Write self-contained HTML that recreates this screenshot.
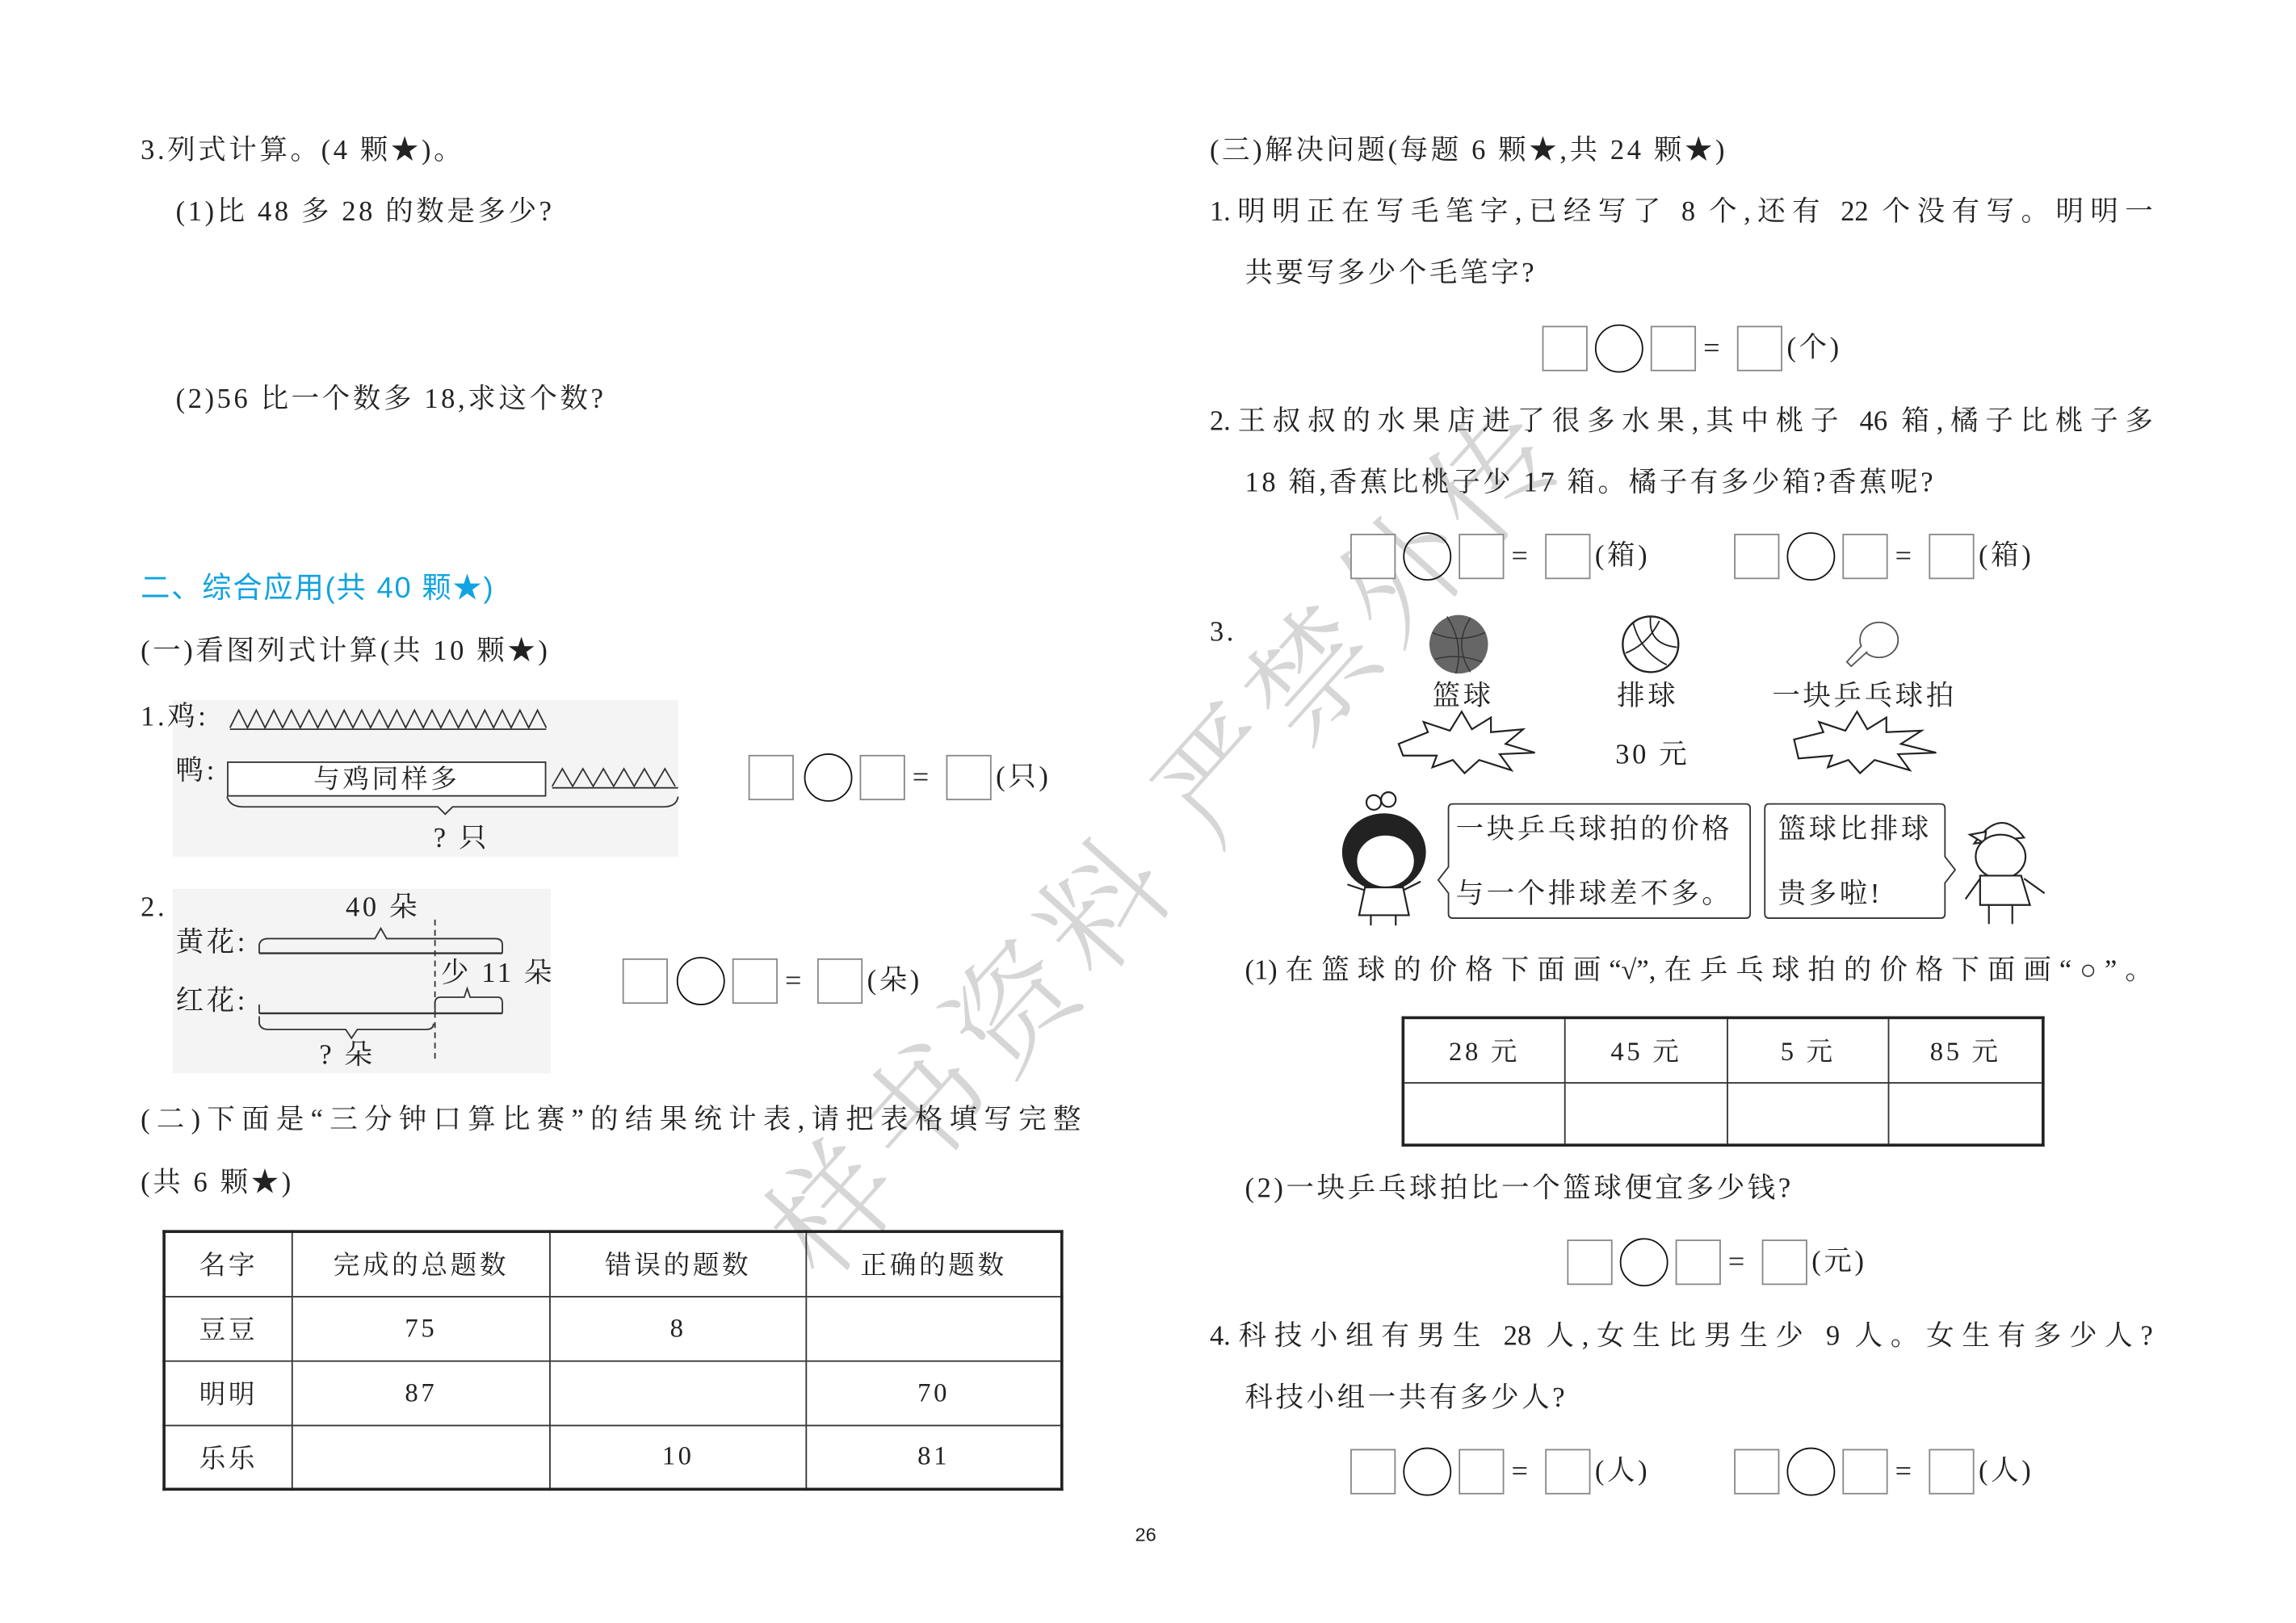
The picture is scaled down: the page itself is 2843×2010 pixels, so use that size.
<!DOCTYPE html>
<html><head><meta charset="utf-8">
<style>
html,body{margin:0;padding:0;background:#fff;}
#wrap{width:2843px;height:2010px;overflow:hidden;position:relative;background:#fff;}
#s{position:absolute;left:0;top:0;width:1560px;height:1103px;transform:scale(1.8135);transform-origin:0 0;font-family:"Liberation Serif","Noto Serif CJK SC",serif;color:#222;}
.t{position:absolute;white-space:nowrap;font-size:19px;line-height:1;transform:translateY(-50%);letter-spacing:2px;}
.j{text-align:justify;text-align-last:justify;letter-spacing:0;}
.sq{position:absolute;width:31px;height:31px;border:1px solid #888;box-sizing:border-box;transform:translateY(-50%);background:#fff;}
.ci{position:absolute;width:33px;height:33px;border:1.6px solid #111;border-radius:50%;box-sizing:border-box;transform:translateY(-50%);}
.eq{position:absolute;font-size:20px;transform:translateY(-50%);line-height:1;}
table{position:absolute;border-collapse:collapse;table-layout:fixed;}
td{border:1px solid #333;text-align:center;font-size:18px;letter-spacing:2px;padding:0;}
svg{position:absolute;left:0;top:0;}
</style></head><body><div id="wrap"><div id="s">

<!-- watermark -->
<div class="t" style="left:410px;top:568px;font-size:84px;color:#d6d6d6;transform:translateY(-50%) rotate(-48deg);transform-origin:center;letter-spacing:8px;font-family:'Noto Serif CJK SC',serif;font-weight:300;">样书资料 严禁外传</div>

<!-- left column -->
<div class="t" style="left:96px;top:103px;">3.列式计算。(4 颗★)。</div>
<div class="t" style="left:120px;top:145px;">(1)比 48 多 28 的数是多少?</div>
<div class="t" style="left:120px;top:273px;">(2)56 比一个数多 18,求这个数?</div>
<div class="t" style="left:96px;top:402px;color:#12a3e0;font-family:'Liberation Sans','Noto Sans CJK SC',sans-serif;font-size:20px;letter-spacing:1px;">二、综合应用(共 40 颗★)</div>
<div class="t" style="left:96px;top:445px;">(一)看图列式计算(共 10 颗★)</div>

<div style="position:absolute;left:118px;top:478px;width:345px;height:107px;background:#f4f4f4;"></div>
<div style="position:absolute;left:118px;top:607px;width:258px;height:126px;background:#f4f4f4;"></div>

<div class="t" style="left:96px;top:490px;">1.鸡:</div>
<div class="t" style="left:120px;top:527px;">鸭:</div>
<div style="position:absolute;left:155px;top:520px;width:218px;height:24px;border:1px solid #333;box-sizing:border-box;background:#fff;font-size:18px;text-align:center;line-height:22px;letter-spacing:2px;">与鸡同样多</div>
<div class="t" style="left:296px;top:573px;">? 只</div>

<div class="t" style="left:96px;top:620px;">2.</div>
<div class="t" style="left:236px;top:620px;">40 朵</div>
<div class="t" style="left:120px;top:644px;">黄花:</div>
<div class="t" style="left:120px;top:684px;">红花:</div>
<div class="t" style="left:301px;top:665px;">少 11 朵</div>
<div class="t" style="left:218px;top:721px;">? 朵</div>

<svg width="1560" height="1103" viewBox="0 0 1560 1103">
 <g fill="none" stroke="#333" stroke-width="1">
  <polyline points="157,497 163,485 169,497 175,485 181,497 187,485 193,497 199,485 205,497 211,485 217,497 223,485 229,497 235,485 241,497 247,485 253,497 259,485 265,497 271,485 277,497 283,485 289,497 295,485 301,497 307,485 313,497 319,485 325,497 331,485 337,497 343,485 349,497 355,485 361,497 367,485 373,497"/>
  <line x1="157" y1="498" x2="373" y2="498"/>
  <polyline points="377,537 384,525 391,537 398,525 405,537 412,525 419,537 426,525 433,537 440,525 447,537 454,525 461,537"/>
  <line x1="377" y1="538" x2="463" y2="538"/>
  <path d="M155,544 Q157,551 166,551 L299,551 L304,556 L309,551 L453,551 Q462,551 463,544"/>
  <line x1="177" y1="651" x2="343" y2="651" stroke-width="1.3"/>
  <path d="M177,651 L177,645 Q178,641 183,641 L256,641 L260,634 L264,641 L338,641 Q343,641 343,645 L343,651"/>
  <line x1="177" y1="692" x2="343" y2="692" stroke-width="1.3"/>
  <line x1="177" y1="686" x2="177" y2="692"/>
  <path d="M297,692 L297,685 Q297,681 301,681 L317,681 L319,675 L321,681 L340,681 Q343,681 343,685 L343,692"/>
  <path d="M177,694 L177,699 Q178,703 183,703 L236,703 L240,709 L244,703 L291,703 Q296,703 296,699"/>
  <line x1="297" y1="628" x2="297" y2="725" stroke-dasharray="4,3"/>
 </g>
 <circle cx="996" cy="440" r="20" fill="#666"/>
 <path d="M978,432 Q996,440 1014,432 M980,450 Q996,446 1012,452 M988,421 Q1000,440 994,460 M1004,422 Q992,440 1004,459" stroke="#333" fill="none" stroke-width="0.8"/>
 <circle cx="1127" cy="440" r="19" fill="#fff" stroke="#222" stroke-width="1.3"/>
 <path d="M1115,425 Q1120,445 1138,454 M1127,421 Q1125,440 1145,442 M1110,446 Q1125,440 1133,424" stroke="#222" fill="none" stroke-width="1"/>
 <ellipse cx="1283" cy="437" rx="13" ry="12" fill="#fff" stroke="#555" stroke-width="1"/>
 <path d="M1271,441 L1261,452 L1264,455 L1275,445" fill="#fff" stroke="#555" stroke-width="1"/>
 <polygon points="955,508 975,500 972,493 990,499 998,486 1005,498 1018,490 1018,500 1040,498 1028,508 1048,514 1024,515 1032,526 1010,519 1000,528 992,519 978,524 981,516 958,516" fill="#fff" stroke="#222" stroke-width="1.2"/>
 <polygon points="1225,505 1245,500 1242,493 1260,499 1268,486 1275,498 1288,490 1288,500 1312,499 1298,508 1322,514 1296,515 1304,526 1280,519 1270,528 1262,519 1248,524 1251,516 1228,518" fill="#fff" stroke="#222" stroke-width="1.2"/>
 <path d="M992,549 L1192,549 Q1195,549 1195,552 L1195,624 Q1195,627 1192,627 L992,627 Q989,627 989,624 L989,610 L982,601 L989,592 L989,552 Q989,549 992,549 Z" fill="#fff" stroke="#333" stroke-width="1"/>
 <path d="M1208,549 L1325,549 Q1328,549 1328,552 L1328,585 L1335,594 L1328,603 L1328,624 Q1328,627 1325,627 L1208,627 Q1205,627 1205,624 L1205,552 Q1205,549 1208,549 Z" fill="#fff" stroke="#333" stroke-width="1"/>
 <g fill="#fff" stroke="#222" stroke-width="1.2">
  <ellipse cx="945" cy="582" rx="28" ry="26" fill="#222"/>
  <ellipse cx="946" cy="588" rx="20" ry="18"/>
  <circle cx="938" cy="548" r="5"/><circle cx="948" cy="546" r="5"/>
  <path d="M932,606 L958,606 L962,625 L928,625 Z"/>
  <line x1="936" y1="625" x2="936" y2="632"/><line x1="953" y1="625" x2="953" y2="632"/>
  <path d="M932,608 L920,604 M958,608 L970,602" fill="none"/>
 </g>
 <g fill="#fff" stroke="#222" stroke-width="1.2">
  <path d="M1348,576 Q1366,550 1382,572 Z"/>
  <path d="M1345,570 L1356,568 L1355,576 Z"/>
  <ellipse cx="1366" cy="585" rx="17" ry="15"/>
  <path d="M1352,598 L1380,598 L1386,618 L1352,618 Z"/>
  <line x1="1358" y1="618" x2="1358" y2="631"/><line x1="1374" y1="618" x2="1374" y2="631"/>
  <path d="M1352,600 L1342,614 M1382,600 L1396,610" fill="none"/>
 </g>
</svg>

<div class="sq" style="left:511px;top:531px;"></div><div class="ci" style="left:549px;top:531px;"></div><div class="sq" style="left:587px;top:531px;"></div><div class="eq" style="left:623px;top:531px;">=</div><div class="sq" style="left:646px;top:531px;"></div><div class="t" style="left:680px;top:531px;">(只)</div>
<div class="sq" style="left:425px;top:670px;"></div><div class="ci" style="left:462px;top:670px;"></div><div class="sq" style="left:500px;top:670px;"></div><div class="eq" style="left:536px;top:670px;">=</div><div class="sq" style="left:558px;top:670px;"></div><div class="t" style="left:592px;top:670px;">(朵)</div>

<div class="t j" style="left:96px;top:765px;width:642px;">(二)下面是“三分钟口算比赛”的结果统计表,请把表格填写完整</div>
<div class="t" style="left:96px;top:808px;">(共 6 颗★)</div>

<table style="left:111px;top:840px;width:615px;border:2px solid #222;">
<tr style="height:44px"><td style="width:86px">名字</td><td style="width:175px">完成的总题数</td><td style="width:174px">错误的题数</td><td>正确的题数</td></tr>
<tr style="height:44px"><td>豆豆</td><td>75</td><td>8</td><td></td></tr>
<tr style="height:44px"><td>明明</td><td>87</td><td></td><td>70</td></tr>
<tr style="height:44px"><td>乐乐</td><td></td><td>10</td><td>81</td></tr>
</table>

<div class="t" style="left:775px;top:1048px;font-family:'Liberation Sans',sans-serif;font-size:13px;letter-spacing:0;">26</div>

<div class="t" style="left:826px;top:103px;">(三)解决问题(每题 6 颗★,共 24 颗★)</div>
<div class="t j" style="left:826px;top:145px;width:644px;">1.明明正在写毛笔字,已经写了 8 个,还有 22 个没有写。明明一</div>
<div class="t" style="left:850px;top:187px;">共要写多少个毛笔字?</div>
<div class="sq" style="left:1053px;top:238px;"></div><div class="ci" style="left:1089px;top:238px;"></div><div class="sq" style="left:1127px;top:238px;"></div><div class="eq" style="left:1163px;top:238px;">=</div><div class="sq" style="left:1186px;top:238px;"></div><div class="t" style="left:1220px;top:238px;">(个)</div>

<div class="t j" style="left:826px;top:288px;width:644px;">2.王叔叔的水果店进了很多水果,其中桃子 46 箱,橘子比桃子多</div>
<div class="t" style="left:850px;top:330px;">18 箱,香蕉比桃子少 17 箱。橘子有多少箱?香蕉呢?</div>
<div class="sq" style="left:922px;top:380px;"></div><div class="ci" style="left:958px;top:380px;"></div><div class="sq" style="left:996px;top:380px;"></div><div class="eq" style="left:1032px;top:380px;">=</div><div class="sq" style="left:1055px;top:380px;"></div><div class="t" style="left:1089px;top:380px;">(箱)</div>
<div class="sq" style="left:1184px;top:380px;"></div><div class="ci" style="left:1220px;top:380px;"></div><div class="sq" style="left:1258px;top:380px;"></div><div class="eq" style="left:1294px;top:380px;">=</div><div class="sq" style="left:1317px;top:380px;"></div><div class="t" style="left:1351px;top:380px;">(箱)</div>

<div class="t" style="left:826px;top:432px;">3.</div>
<div class="t" style="left:978px;top:476px;">篮球</div>
<div class="t" style="left:1104px;top:476px;">排球</div>
<div class="t" style="left:1210px;top:476px;">一块乒乓球拍</div>
<div class="t" style="left:1103px;top:516px;">30 元</div>
<div class="t" style="left:994px;top:567px;">一块乒乓球拍的价格</div>
<div class="t" style="left:994px;top:611px;">与一个排球差不多。</div>
<div class="t" style="left:1214px;top:567px;">篮球比排球</div>
<div class="t" style="left:1214px;top:611px;">贵多啦!</div>

<div class="t j" style="left:850px;top:663px;width:620px;">(1)在篮球的价格下面画“√”,在乒乓球拍的价格下面画“○”。</div>
<table style="left:957px;top:694px;width:439px;border:2px solid #222;">
<tr style="height:44px"><td style="width:109px">28 元</td><td style="width:110px">45 元</td><td style="width:109px">5 元</td><td>85 元</td></tr>
<tr style="height:43px"><td></td><td></td><td></td><td></td></tr>
</table>
<div class="t" style="left:850px;top:812px;">(2)一块乒乓球拍比一个篮球便宜多少钱?</div>
<div class="sq" style="left:1070px;top:862px;"></div><div class="ci" style="left:1106px;top:862px;"></div><div class="sq" style="left:1144px;top:862px;"></div><div class="eq" style="left:1180px;top:862px;">=</div><div class="sq" style="left:1203px;top:862px;"></div><div class="t" style="left:1237px;top:862px;">(元)</div>

<div class="t j" style="left:826px;top:913px;width:644px;">4.科技小组有男生 28 人,女生比男生少 9 人。女生有多少人?</div>
<div class="t" style="left:850px;top:955px;">科技小组一共有多少人?</div>
<div class="sq" style="left:922px;top:1005px;"></div><div class="ci" style="left:958px;top:1005px;"></div><div class="sq" style="left:996px;top:1005px;"></div><div class="eq" style="left:1032px;top:1005px;">=</div><div class="sq" style="left:1055px;top:1005px;"></div><div class="t" style="left:1089px;top:1005px;">(人)</div>
<div class="sq" style="left:1184px;top:1005px;"></div><div class="ci" style="left:1220px;top:1005px;"></div><div class="sq" style="left:1258px;top:1005px;"></div><div class="eq" style="left:1294px;top:1005px;">=</div><div class="sq" style="left:1317px;top:1005px;"></div><div class="t" style="left:1351px;top:1005px;">(人)</div>

</div></div></body></html>
